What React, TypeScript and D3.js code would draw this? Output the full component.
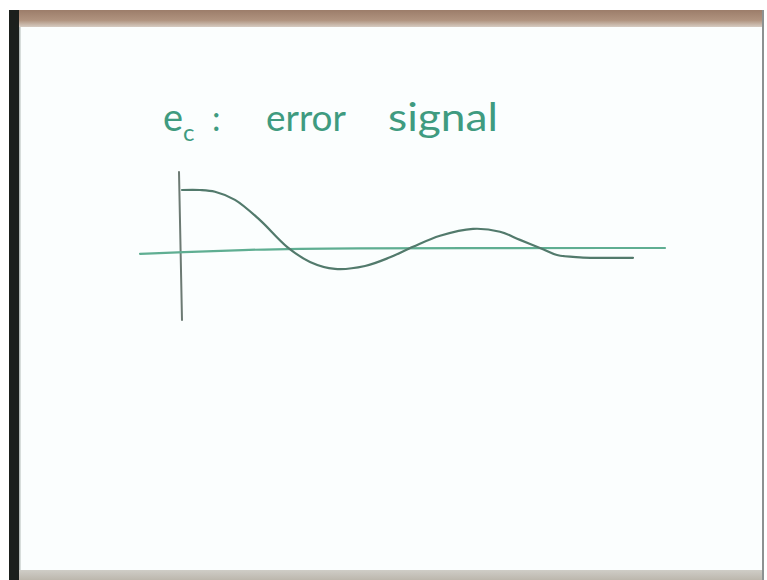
import React from "react";
import * as d3 from "d3";

// Damped error response e_c(t), sampled along the sketch
const timeT = [0.02, 0.38, 0.68, 1.08, 1.58, 2.12, 2.58, 3.08, 3.68, 4.18, 4.64, 5.18, 5.84, 6.38, 6.78, 7.24, 7.52, 7.98, 9.04];
const errorE = [1.0, 1.0, 0.97, 0.83, 0.48, 0.02, -0.24, -0.36, -0.31, -0.16, 0.02, 0.21, 0.33, 0.28, 0.14, -0.02, -0.12, -0.16, -0.17];

// Hand-drawn time axis (slight droop at the left end)
const timeAxisT = [-0.82, 0, 1.2, 2.6, 9.68];
const timeAxisE = [-0.1, -0.075, -0.035, 0, 0];

// Hand-drawn value axis
const valueAxisT = [-0.04, 0.02];
const valueAxisE = [1.31, -1.24];

const W = 767;
const H = 580;

export default function App() {
  const x = d3.scaleLinear().domain([0, 10]).range([181, 681]);
  const y = d3.scaleLinear().domain([0, 1]).range([248, 190]);

  const curve = d3
    .line<number>()
    .x((_, i) => x(timeT[i]))
    .y((d) => y(d))
    .curve(d3.curveCatmullRom.alpha(0.5));

  const axisLine = (ts: number[], es: number[]) =>
    d3
      .line<number>()
      .x((_, i) => x(ts[i]))
      .y((d) => y(d))
      .curve(d3.curveBasis)(es) || "";

  const ink = "#3f9b80";
  const font = "Lato, 'Open Sans', 'DejaVu Sans', sans-serif";

  return (
    <svg
      width={W}
      height={H}
      viewBox={`0 0 ${W} ${H}`}
      style={{ position: "absolute", left: 0, top: 0, display: "block" }}
    >
      <defs>
        <linearGradient id="topStrip" x1="0" y1="0" x2="0" y2="1">
          <stop offset="0" stopColor="#9c7d6a" />
          <stop offset="0.6" stopColor="#b0937f" />
          <stop offset="1" stopColor="#d6ccc2" />
        </linearGradient>
        <linearGradient id="bottomStrip" x1="0" y1="0" x2="0" y2="1">
          <stop offset="0" stopColor="#cfcdc7" />
          <stop offset="1" stopColor="#bcb7ad" />
        </linearGradient>
      </defs>

      <rect x={0} y={0} width={W} height={H} fill="#ffffff" />
      {/* board */}
      <rect x={19} y={27} width={744} height={543} fill="#fbfefe" />
      <rect x={19} y={10} width={744} height={17} fill="url(#topStrip)" />
      <rect x={19} y={570} width={744} height={10} fill="url(#bottomStrip)" />
      <rect x={9} y={10} width={10} height={570} fill="#1b1f1c" />
      <rect x={19} y={27} width={1.5} height={543} fill="#b4bbb8" />
      <rect x={762} y={10} width={2} height={570} fill="#8c9191" />

      {/* title */}
      <g fill={ink} fontFamily={font}>
        <text x={163} y={131} fontSize={38}>e</text>
        <text x={183} y={141} fontSize={24}>c</text>
        <text x={212} y={131} fontSize={34}>:</text>
        <text x={266} y={131} fontSize={36} textLength={80} lengthAdjust="spacingAndGlyphs">error</text>
        <text x={388} y={131} fontSize={38} textLength={110} lengthAdjust="spacingAndGlyphs">signal</text>
      </g>

      {/* axes */}
      <path
        d={axisLine(valueAxisT, valueAxisE)}
        fill="none"
        stroke="#6c7a73"
        strokeWidth={2}
        strokeLinecap="round"
      />
      <path
        d={axisLine(timeAxisT, timeAxisE)}
        fill="none"
        stroke="#5fae92"
        strokeWidth={2.2}
        strokeLinecap="round"
      />

      {/* response */}
      <path
        d={curve(errorE) || ""}
        fill="none"
        stroke="#527a6c"
        strokeWidth={2.2}
        strokeLinecap="round"
        strokeLinejoin="round"
      />
    </svg>
  );
}
